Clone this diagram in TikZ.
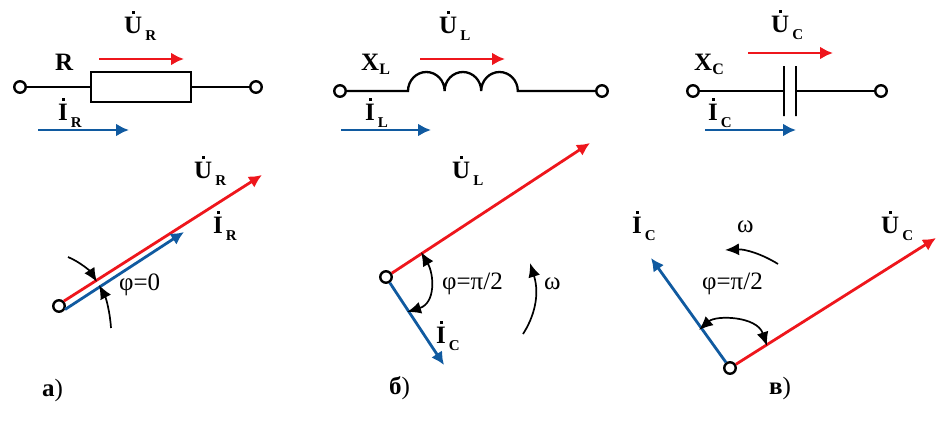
\documentclass[tikz,border=0pt]{standalone}
\usepackage{fontspec}
\setmainfont{Liberation Serif}
\usepackage{xcolor}
\usetikzlibrary{arrows.meta}
\definecolor{vecred}{RGB}{238,22,28}
\definecolor{vecblue}{RGB}{16,90,160}
\newcommand{\phasor}[2]{\ooalign{#1\cr\hidewidth\rule[19pt]{3pt}{3pt}\hidewidth\cr}\raisebox{-7pt}{\kern3pt\fontsize{15}{15}\selectfont #2}}
\newcommand{\react}[1]{X\raisebox{-4pt}{\fontsize{16}{16}\selectfont #1}}
\tikzset{
  terminal/.style={draw, circle, line width=2.4pt, minimum size=11.5pt, inner sep=0pt, fill=white},
  wire/.style={line width=2.3pt},
  plate/.style={draw, line width=2.3pt, minimum height=50pt, minimum width=0pt, inner sep=0pt},
  redarrow/.style={-{Latex[length=13pt,width=13pt]}, vecred, line width=2.8pt},
  bluearrow/.style={-{Latex[length=13pt,width=13pt]}, vecblue, line width=2.8pt},
  anglearc/.style={-{Latex[length=14pt,width=12pt]}, line width=1.7pt},
  doublearc/.style={{Latex[length=14pt,width=12pt]}-{Latex[length=14pt,width=12pt]}, line width=1.7pt},
  boldlabel/.style={font=\bfseries\fontsize{25}{25}\selectfont, inner sep=0pt, anchor=base west},
  angletext/.style={font=\fontsize{25}{25}\selectfont, inner sep=0pt, anchor=base west},
  partlabel/.style={font=\fontsize{25}{25}\selectfont, inner sep=0pt, anchor=base west}
}
\begin{document}
\begin{tikzpicture}[x=1pt,y=-1pt]
            \useasboundingbox (0,0) rectangle (941,421);
            % Resistor
            \node[terminal] (ra) at (20,87) {};
            \node[terminal] (rb) at (256,87) {};
            \node[draw, rectangle, line width=2.3pt, minimum width=100pt, minimum height=30pt, inner sep=0pt] (res) at (141,87) {};
            \draw[wire] (ra) -- (res);
            \draw[wire] (res) -- (rb);
            \coordinate (rus) at (99,59);
            \coordinate (rue) at (184,59);
            \coordinate (ris) at (38,130);
            \coordinate (rie) at (129,130);
            \draw[redarrow] (rus) -- (rue);
            \draw[bluearrow] (ris) -- (rie);
            \node[boldlabel] (rname) at (55,70) {R};
            \node[boldlabel] (rulabel) at (124,33) {\phasor{U}{R}};
            \node[boldlabel] (rilabel) at (58,120) {\phasor{I}{R}};
            % Inductor
            \node[terminal] (la) at (340,91) {};
            \node[terminal] (lb) at (602,91) {};
            \coordinate (coila) at (408,91);
            \coordinate (coilb) at (518,91);
            \draw[wire] (la) -- (coila) arc[start angle=180,end angle=0,x radius=18.3pt,y radius=19pt] arc[start angle=180,end angle=0,x radius=18.3pt,y radius=19pt] arc[start angle=180,end angle=0,x radius=18.3pt,y radius=19pt] -- (lb);
            \coordinate (lus) at (420,59);
            \coordinate (lue) at (505,59);
            \coordinate (lis) at (341,130);
            \coordinate (lie) at (431,130);
            \draw[redarrow] (lus) -- (lue);
            \draw[bluearrow] (lis) -- (lie);
            \node[boldlabel] (lname) at (361,70) {\react{L}};
            \node[boldlabel] (lulabel) at (439,33) {\phasor{U}{L}};
            \node[boldlabel] (lilabel) at (365,120) {\phasor{I}{L}};
            % Capacitor
            \node[terminal] (ca) at (693,91) {};
            \node[terminal] (cb) at (881,91) {};
            \node[plate] (pa) at (784,91) {};
            \node[plate] (pb) at (796,91) {};
            \draw[wire] (ca) -- (pa);
            \draw[wire] (pb) -- (cb);
            \coordinate (cus) at (748,53);
            \coordinate (cue) at (833,53);
            \coordinate (cis) at (705,130);
            \coordinate (cie) at (796,130);
            \draw[redarrow] (cus) -- (cue);
            \draw[bluearrow] (cis) -- (cie);
            \node[boldlabel] (cname) at (694,70) {\react{C}};
            \node[boldlabel] (culabel) at (771,32) {\phasor{U}{C}};
            \node[boldlabel] (cilabel) at (708,120) {\phasor{I}{C}};
            % Phasors a
            \node[terminal] (oa) at (59,306) {};
            \coordinate (ua) at (262,175);
            \coordinate (ia) at (184,232);
            \draw[redarrow] (oa.45) -- (ua);
            \draw[bluearrow] (oa.-30) -- (ia);
            \coordinate (aas) at (68,257);
            \coordinate (aae) at (97,282);
            \coordinate (abs) at (111,328);
            \coordinate (abe) at (99,285);
            \draw[anglearc] (aas) .. controls (80,262) and (90,271) .. (aae);
            \draw[anglearc] (abs) .. controls (110,312) and (106,298) .. (abe);
            \node[boldlabel] (ualabel) at (194,178) {\phasor{U}{R}};
            \node[boldlabel] (ialabel) at (213,233) {\phasor{I}{R}};
            \node[angletext] (phia) at (119,290) {φ=0};
            \node[partlabel] (parta) at (42,396) {\textbf{а})};
            % Phasors b
            \node[terminal] (ob) at (386,277) {};
            \coordinate (ub) at (590,143);
            \coordinate (ib) at (444,365);
            \draw[redarrow] (ob) -- (ub);
            \draw[bluearrow] (ob) -- (ib);
            \coordinate (abt) at (421,252);
            \coordinate (abb) at (407,312);
            \draw[doublearc] (abt) .. controls (434,274) and (436,303) .. (abb);
            \coordinate (wbs) at (523,334);
            \coordinate (wbe) at (530,263);
            \draw[anglearc] (wbs) .. controls (534,317) and (540,295) .. (wbe);
            \node[boldlabel] (ublabel) at (452,178) {\phasor{U}{L}};
            \node[boldlabel] (iblabel) at (436,343) {\phasor{I}{C}};
            \node[angletext] (phib) at (442,289) {φ=π/2};
            \node[angletext] (omegab) at (544,289) {ω};
            \node[partlabel] (partb) at (389,394) {\textbf{б})};
            % Phasors c
            \node[terminal] (oc) at (730,368) {};
            \coordinate (uc) at (936,238);
            \coordinate (ic) at (651,258);
            \draw[redarrow] (oc) -- (uc);
            \draw[bluearrow] (oc) -- (ic);
            \coordinate (acl) at (699,330);
            \coordinate (acr) at (767,346);
            \draw[doublearc] (acl) .. controls (716,315) and (757,316) .. (acr);
            \coordinate (wcs) at (778,264);
            \coordinate (wce) at (725,250);
            \draw[anglearc] (wcs) .. controls (762,254) and (745,249) .. (wce);
            \node[boldlabel] (uclabel) at (881,233) {\phasor{U}{C}};
            \node[boldlabel] (iclabel) at (632,233) {\phasor{I}{C}};
            \node[angletext] (phic) at (702,289) {φ=π/2};
            \node[angletext] (omegac) at (737,232) {ω};
            \node[partlabel] (partc) at (769,394) {\textbf{в})};
\end{tikzpicture}
\end{document}
